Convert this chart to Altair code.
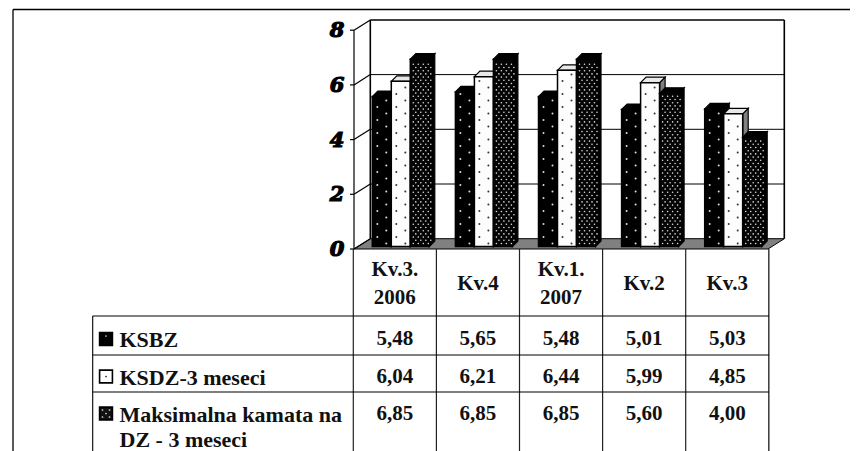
import altair as alt
import pandas as pd

quarters = ["Kv.3. 2006", "Kv.4", "Kv.1. 2007", "Kv.2", "Kv.3"]
KSBZ = [5.48, 5.65, 5.48, 5.01, 5.03]
KSDZ = [6.04, 6.21, 6.44, 5.99, 4.85]
MAKS = [6.85, 6.85, 6.85, 5.60, 4.00]
value_labels = [["5,48", "5,65", "5,48", "5,01", "5,03"],
                ["6,04", "6,21", "6,44", "5,99", "4,85"],
                ["6,85", "6,85", "6,85", "5,60", "4,00"]]
y_ticks = [0, 2, 4, 6, 8]

# geometry helpers: page pixel -> data units of the shared scales
UX, X0 = 83.1, 353.3
UY, Y0 = 27.35, 249.0
def X(px): return (px - X0) / UX
def Y(px): return (Y0 - px) / UY
SERIF = "Liberation Serif"
FS = 21

x_s = alt.Scale(domain=[X(8), X(850)], range=[0, 842], nice=False, zero=False)
y_s = alt.Scale(domain=[Y(451), Y(8)], range=[443, 0], nice=False, zero=False)
xe = alt.X("x:Q", scale=x_s, axis=None)
ye = alt.Y("y:Q", scale=y_s, axis=None)

def rules(segs, width=1.0, color="#000"):
    rows = []
    for i, (a, b, c, d) in enumerate(segs):
        rows += [dict(x=X(a), y=Y(b), id=i, o=0), dict(x=X(c), y=Y(d), id=i, o=1)]
    return alt.Chart(pd.DataFrame(rows)).mark_line(color=color, strokeWidth=width, clip=False).encode(
        x=xe, y=ye, detail="id:N", order="o:Q")

def polys(items, fill, stroke="#000", sw=1.0):
    rows = []
    for i, pts in enumerate(items):
        for k, (px, lo, hi) in enumerate(pts):
            rows.append(dict(x=X(px), y=Y(lo), y2=Y(hi), id=i))
    return alt.Chart(pd.DataFrame(rows)).mark_area(
        orient="vertical", color=fill, stroke=stroke, strokeWidth=sw, opacity=1, interpolate="linear"
    ).encode(x=xe, y=ye, y2="y2:Q", detail="id:N")

def texts(rows, size=FS, align="center", style="normal", weight="bold", color="#111", **kw):
    return alt.Chart(pd.DataFrame(rows, columns=["x", "y", "t"]).assign(
        x=lambda d: d.x.map(X), y=lambda d: d.y.map(Y))).mark_text(
        font=kw.pop("font", SERIF), fontSize=size, fontWeight=weight, fontStyle=style, align=align,
        baseline="middle", color=color, **kw).encode(x=xe, y=ye, text="t:N")

layers = []
# outer frame
layers.append(rules([(13, 9.5, 850, 9.5), (13, 9.5, 13, 451)], 1.3))
# floor
layers.append(polys([[(354, 249, 249), (370.3, 249, 238.7), (768, 249, 238.7), (784.3, 238.7, 238.7)]],
                    "#808080", "#000", 1))
# walls and gridlines
grid = [(370.3, Y0 - 10.3 - v * UY, 784.3, Y0 - 10.3 - v * UY) for v in y_ticks[1:4]]
layers.append(rules(grid, 1.0))
layers.append(rules([(370.3, 20, 784.3, 20), (784.3, 20, 784.3, 238.7), (370.3, 20, 370.3, 238.7)], 1.6))
diag = [(354, Y0 - v * UY, 370.3, Y0 - 10.3 - v * UY) for v in y_ticks]
ticks = [(350, Y0 - v * UY, 354, Y0 - v * UY) for v in y_ticks]
layers.append(rules(diag + ticks + [(354, 30.2, 354, 249)], 1.2))

# bars
BAR_OFF, BAR_W, DEP, BASE = 19.0, 19.0, 5.5, 246.5
series = [
    (KSBZ, "#000000", "#000000", "#000000", "#ddd", 6.5, 6.5, 4),
    (KSDZ, "#fdfdfd", "#e8e8e8", "#808080", "#333", 6.5, 6.5, 4),
    (MAKS, "#050505", "#000000", "#000000", "#dcdcdc", 5.0, 3.2, 2.6),
]
for s, (vals, front, top, side, dot, dx, dy, dsize) in enumerate(series):
    f_rows, t_items, s_items, d_rows = [], [], [], []
    for q, v in enumerate(vals):
        x0 = X0 + q * UX + BAR_OFF + s * BAR_W
        x1 = x0 + BAR_W
        yt = BASE - v * UY
        f_rows.append(dict(x=X(x0), x2=X(x1), y=v + Y(BASE), y2=Y(BASE)))
        t_items.append([(x0, yt, yt), (x0 + DEP, yt, yt - DEP), (x1, yt, yt - DEP), (x1 + DEP, yt - DEP, yt - DEP)])
        s_items.append([(x1, BASE, yt), (x1 + DEP, BASE - DEP, yt - DEP)])
        r = 0
        py = BASE - 3
        while py > yt + 2:
            if s < 2:
                d_rows.append(dict(x=X(x0 + (5 if r % 2 else 14)), y=Y(py)))
            else:
                px = x0 + 3 + (dx / 2 if r % 2 else 0)
                while px < x1 + DEP - 2:
                    d_rows.append(dict(x=X(px), y=Y(py)))
                    px += dx
            py -= dy
            r += 1
    layers.append(polys(s_items, side, "#000", 1.2))
    layers.append(polys(t_items, top, "#000", 1.2))
    layers.append(alt.Chart(pd.DataFrame(f_rows)).mark_rect(color=front, stroke="#000", strokeWidth=1.5).encode(
        x=xe, x2="x2:Q", y=ye, y2="y2:Q"))
    layers.append(alt.Chart(pd.DataFrame(d_rows)).mark_point(
        shape="circle", filled=True, color=dot, size=dsize, opacity=1).encode(x=xe, y=ye))

# table lines
ROWS = [316, 355, 392]
vert = [(X0 + i * UX, 249, X0 + i * UX, 451) for i in range(5)]
layers.append(rules(vert, 1.2, "#222"))
layers.append(rules([(X0 + 5 * UX, 249, X0 + 5 * UX, 451)], 1.6, "#444"))
layers.append(rules([(92.7, r, 769, r) for r in ROWS] + [(92.7, 316, 92.7, 451)], 1.1))

# legend keys
key_rows = pd.DataFrame(dict(x=[X(106)] * 3, y=[Y(339), Y(376.5), Y(413.5)], f=["#000", "#fff", "#111"]))
layers.append(alt.Chart(key_rows).mark_square(size=165, stroke="#000", strokeWidth=1.6, opacity=1).encode(
    x=xe, y=ye, fill=alt.Fill("f:N", scale=None)))
key_dots = [(106, 336, "#ccc"), (106, 376.5, "#222"), (102.5, 410, "#ddd"), (109.5, 410, "#ddd"),
            (106, 413.5, "#ddd"), (102.5, 417, "#ddd"), (109.5, 417, "#ddd")]
layers.append(alt.Chart(pd.DataFrame(key_dots, columns=["x", "y", "c"]).assign(
    x=lambda d: d.x.map(X), y=lambda d: d.y.map(Y))).mark_point(filled=True, size=3, opacity=1).encode(
    x=xe, y=ye, color=alt.Color("c:N", scale=None)))

# text
cx = [X0 + (i + .5) * UX for i in range(5)]
hdr = [(cx[0], 270, "Kv.3."), (cx[0], 298, "2006"), (cx[1], 284, "Kv.4"), (cx[2], 270, "Kv.1."),
       (cx[2], 298, "2007"), (cx[3], 284, "Kv.2"), (cx[4], 284, "Kv.3")]
layers.append(texts(hdr))
rows_y = [339, 377, 414]
vals = [(cx[q], rows_y[r], value_labels[r][q]) for r in range(3) for q in range(5)]
layers.append(texts(vals))
legend = [(119.5, 340, "KSBZ"), (119.5, 378, "KSDZ-3 meseci"), (119.5, 415, "Maksimalna kamata na"),
          (119.5, 440, "DZ - 3 meseci")]
layers.append(texts(legend, size=22, align="left"))
layers.append(texts([(337, Y0 - v * UY + 1, str(v)) for v in y_ticks], size=21, style="italic", color="#000",
                    font="DejaVu Serif", stroke="#000", strokeWidth=1.2))

chart = alt.layer(*layers).properties(
    width=842, height=443, padding=0, autosize=alt.AutoSizeParams(type="none")
).configure_view(stroke=None).resolve_scale(color="independent", fill="independent")
chart.save("out.html", embed_options={"renderer": "svg", "actions": False})
